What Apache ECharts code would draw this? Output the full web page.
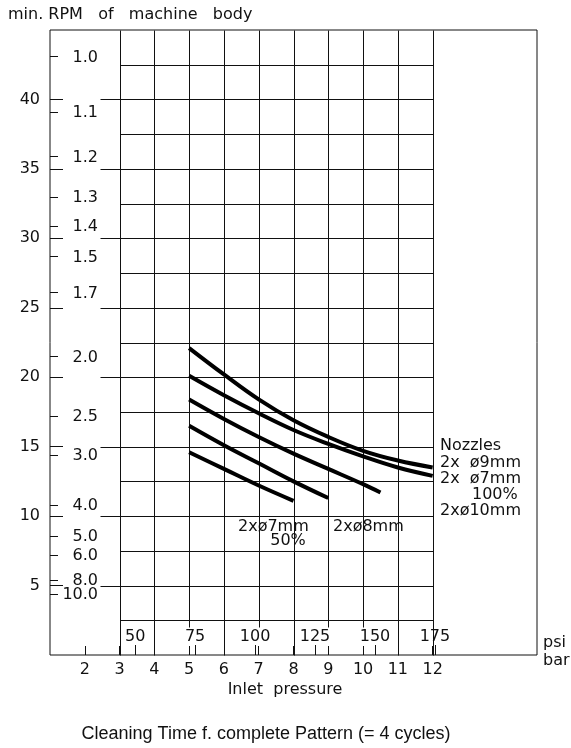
<!DOCTYPE html>
<html>
<head>
<meta charset="utf-8">
<script src="https://cdn.jsdelivr.net/npm/echarts@6/dist/echarts.min.js"></script>
<style>
  html, body { margin: 0; padding: 0; background: #fff; }
  #chart { width: 571px; height: 748px; }
</style>
</head>
<body>
<div id="chart"></div>
<script>
// left scale: min. RPM of machine body
var rpmTicks = [5, 10, 15, 20, 25, 30, 35, 40];
// cleaning time labels and the RPM value each one sits at
var timeLabels = ['1.0', '1.1', '1.2', '1.3', '1.4', '1.5', '1.7', '2.0', '2.5', '3.0', '4.0', '5.0', '6.0', '8.0', '10.0'];
var timeAtRpm = [43.1, 39.1, 35.9, 33.0, 30.9, 28.7, 26.1, 21.5, 17.2, 14.4, 10.8, 8.6, 7.2, 5.4, 4.4];

// inlet pressure
var barTicks = [2, 3, 4, 5, 6, 7, 8, 9, 10, 11, 12];
var psiTicks = [50, 75, 100, 125, 150, 175];
var PSI_PER_BAR = 14.5038;

// grid lines (bar / rpm)
var vLinesFull = [3, 4, 6, 8, 11, 12];
var vLinesShort = [5, 7, 9, 10];
var hLinesMajor = [5, 10, 15, 20, 25, 30, 35, 40];
var hLinesMinor = [2.5, 7.5, 12.5, 17.5, 22.5, 27.5, 32.5, 37.5, 42.5];

// curves, top to bottom
var curve1Bar = [5, 6, 7, 8, 9, 10, 11, 12];
var curve1Rpm = [22.1, 20.2, 18.4, 16.9, 15.7, 14.7, 14.0, 13.5];
var curve2Bar = [5, 6, 7, 8, 9, 10, 11, 12];
var curve2Rpm = [20.1, 18.7, 17.4, 16.2, 15.2, 14.3, 13.5, 12.9];
var curve3Bar = [5, 6, 7, 8, 9, 10, 10.5];
var curve3Rpm = [18.4, 17.0, 15.7, 14.5, 13.4, 12.3, 11.7];
var curve4Bar = [5, 6, 7, 8, 9];
var curve4Rpm = [16.5, 15.1, 13.8, 12.5, 11.3];
var curve5Bar = [5, 6, 7, 8];
var curve5Rpm = [14.6, 13.4, 12.2, 11.1];

var FONT = "'DejaVu Sans', sans-serif";
var INK = '#111';
var FS = 16;

var myChart = echarts.init(document.getElementById('chart'));

function zip(xs, ys) {
  return xs.map(function (x, i) { return [x, ys[i]]; });
}
function crisp(v) { return Math.round(v) + 0.5; }

// segments [x1, y1, x2, y2]
var segs = [];
vLinesFull.forEach(function (b) { segs.push([b, 0, b, 45]); });
vLinesShort.forEach(function (b) { segs.push([b, 2.0, b, 45]); });
hLinesMajor.forEach(function (r) { segs.push([2.425, r, 12, r]); });
hLinesMinor.forEach(function (r) { segs.push([3, r, 12, r]); });

var curves = [
  zip(curve1Bar, curve1Rpm),
  zip(curve2Bar, curve2Rpm),
  zip(curve3Bar, curve3Rpm),
  zip(curve4Bar, curve4Rpm),
  zip(curve5Bar, curve5Rpm)
];

var curveSeries = curves.map(function (d) {
  return {
    type: 'line',
    data: d,
    smooth: 0.4,
    symbol: 'none',
    silent: true,
    z: 5,
    lineStyle: { color: '#000', width: 4 }
  };
});

function txt(x, y, text, opt) {
  opt = opt || {};
  return {
    type: 'text',
    x: x,
    y: y,
    style: {
      text: text,
      fontSize: opt.size || FS,
      fontFamily: opt.font || FONT,
      fill: INK,
      align: opt.align || 'left',
      verticalAlign: 'middle'
    }
  };
}

myChart.setOption({
  animation: false,
  grid: {
    left: 50,
    right: 34,
    top: 30,
    bottom: 93,
    show: true,
    borderColor: INK,
    borderWidth: 1
  },
  xAxis: {
    type: 'value',
    min: 1,
    max: 15,
    splitLine: { show: false },
    axisLine: { show: false },
    axisTick: {
      show: true,
      inside: true,
      length: 9,
      customValues: barTicks,
      lineStyle: { color: INK }
    },
    axisLabel: {
      customValues: barTicks,
      margin: 7,
      fontSize: FS,
      fontFamily: FONT,
      color: INK
    }
  },
  yAxis: {
    type: 'value',
    min: 0,
    max: 45,
    splitLine: { show: false },
    axisLine: { show: false },
    axisTick: {
      show: true,
      inside: true,
      length: 13,
      customValues: rpmTicks,
      lineStyle: { color: INK }
    },
    axisLabel: {
      customValues: rpmTicks,
      margin: 10,
      fontSize: FS,
      fontFamily: FONT,
      color: INK
    }
  },
  series: [
    {
      // chart grid
      type: 'custom',
      silent: true,
      data: segs,
      encode: { x: [0, 2], y: [1, 3] },
      renderItem: function (params, api) {
        var a = api.coord([api.value(0), api.value(1)]);
        var b = api.coord([api.value(2), api.value(3)]);
        return {
          type: 'line',
          shape: { x1: crisp(a[0]), y1: crisp(a[1]), x2: crisp(b[0]), y2: crisp(b[1]) },
          style: { stroke: INK, lineWidth: 1 }
        };
      }
    },
    {
      // cleaning time scale on the left axis
      type: 'custom',
      silent: true,
      data: timeAtRpm.map(function (r) { return [1, r]; }),
      renderItem: function (params, api) {
        var p = api.coord([api.value(0), api.value(1)]);
        return {
          type: 'group',
          children: [
            {
              type: 'line',
              shape: { x1: p[0], y1: crisp(p[1]), x2: p[0] + 8, y2: crisp(p[1]) },
              style: { stroke: INK, lineWidth: 1 }
            },
            {
              type: 'text',
              x: p[0] + 48,
              y: p[1] + 1,
              style: {
                text: timeLabels[params.dataIndex],
                fontSize: FS,
                fontFamily: FONT,
                fill: INK,
                align: 'right',
                verticalAlign: 'middle'
              }
            }
          ]
        };
      }
    },
    {
      // psi scale
      type: 'custom',
      silent: true,
      data: psiTicks.map(function (p) { return [p / PSI_PER_BAR, 0]; }),
      renderItem: function (params, api) {
        var p = api.coord([api.value(0), api.value(1)]);
        return {
          type: 'group',
          children: [
            {
              type: 'line',
              shape: { x1: crisp(p[0]), y1: p[1], x2: crisp(p[0]), y2: p[1] - 10 },
              style: { stroke: INK, lineWidth: 1 }
            },
            {
              type: 'text',
              x: p[0],
              y: p[1] - 18,
              style: {
                text: String(psiTicks[params.dataIndex]),
                fontSize: FS,
                fontFamily: FONT,
                fill: INK,
                align: 'center',
                verticalAlign: 'middle'
              }
            }
          ]
        };
      }
    }
  ].concat(curveSeries),
  graphic: [
    txt(8, 15, 'min. RPM   of   machine   body'),
    txt(440, 446, 'Nozzles'),
    txt(440, 463, '2x  ø9mm'),
    txt(440, 479, '2x  ø7mm'),
    txt(472, 495, '100%'),
    txt(440, 511, '2xø10mm'),
    txt(238, 527, '2xø7mm'),
    txt(288, 541, '50%', { align: 'center' }),
    txt(333, 527, '2xø8mm'),
    txt(543, 643, 'psi'),
    txt(543, 661, 'bar'),
    txt(285, 690, 'Inlet  pressure', { align: 'center' }),
    txt(266, 734, 'Cleaning Time f. complete Pattern (= 4 cycles)', {
      align: 'center',
      size: 18,
      font: "'Liberation Sans', Arial, sans-serif"
    })
  ]
});

window.addEventListener('resize', function () {
  myChart && myChart.resize();
});
</script>
</body>
</html>
